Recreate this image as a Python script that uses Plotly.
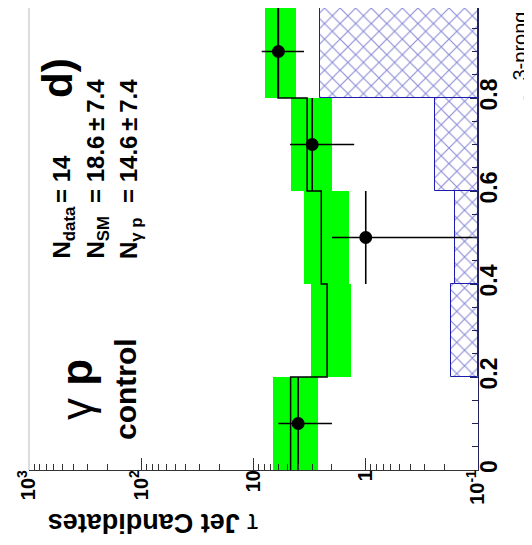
import numpy as np
import plotly.graph_objects as go

# ---------------- data ----------------
bin_edges = [0.0, 0.2, 0.4, 0.6, 0.8, 1.0]
bin_centers = [0.1, 0.3, 0.5, 0.7, 0.9]
data_counts = [4, 0, 1, 3, 6]
sm_values = [4.67, 2.21, 2.49, 3.33, 6.05]
sm_errors = [2.0, 0.85, 1.07, 1.33, 1.9]
hatched_values = [0.0, 0.173, 0.161, 0.243, 2.54]

log_tick_vals = [1000, 100, 10, 1, 0.1]
log_tick_text = ["10<sup>3</sup>", "10<sup>2</sup>", "10", "1", "10<sup>-1</sup>"]
i_tick_vals = [0, 0.2, 0.4, 0.6, 0.8]
i_tick_text = ["0", "0.2", "0.4", "0.6", "0.8"]

FONT = "Liberation Sans"
W, H = 532, 545
L, R, T, B = 21, 470, 0, 462   # plot area in pixels


def fx(px):
    return (px - L) / (R - L)


def fy(py):
    return (B - py) / (B - T)


fig = go.Figure()

# SM uncertainty band (green)
fig.add_trace(go.Bar(
    orientation="h",
    y=bin_centers,
    x=[2 * e for e in sm_errors],
    base=[v - e for v, e in zip(sm_values, sm_errors)],
    width=0.2,
    marker=dict(color="#00ff00", line=dict(width=0)),
    showlegend=False,
))

# hatched histogram
hb_y = [c for c, v in zip(bin_centers, hatched_values) if v > 0.1]
hb_v = [v for v in hatched_values if v > 0.1]
fig.add_trace(go.Bar(
    orientation="h",
    y=hb_y,
    x=[v - 0.1 for v in hb_v],
    base=[0.1] * len(hb_v),
    width=0.2,
    marker=dict(
        color="white",
        line=dict(color="#1c1cb0", width=1),
        pattern=dict(shape="x", fgcolor="#1c1cb0", bgcolor="white",
                     size=11, solidity=0.2),
    ),
    showlegend=False,
))

# SM histogram step line
fig.add_trace(go.Scatter(
    x=sm_values + [sm_values[-1]],
    y=bin_edges,
    mode="lines",
    line=dict(color="black", width=1.5, shape="vh"),
    showlegend=False,
))

# data points
dx = [c for c, n in zip(bin_centers, data_counts) if n > 0]
dn = [n for n in data_counts if n > 0]
fig.add_trace(go.Scatter(
    x=dn,
    y=dx,
    mode="markers",
    marker=dict(color="black", size=13, symbol="circle"),
    error_x=dict(type="data", array=[np.sqrt(n) for n in dn],
                 arrayminus=[np.sqrt(n) for n in dn],
                 color="black", thickness=1.6, width=0),
    error_y=dict(type="constant", value=0.1, color="black",
                 thickness=1.6, width=0),
    showlegend=False,
))

minor_vals = []
for dec in [0.1, 1, 10, 100]:
    for k in range(2, 10):
        minor_vals.append(k * dec)

fig.update_layout(
    width=W, height=H,
    margin=dict(l=L, r=W - R, t=T, b=H - B, pad=0),
    paper_bgcolor="white", plot_bgcolor="white",
    barmode="overlay",
    bargap=0,
    font=dict(family=FONT, color="black"),
    xaxis=dict(
        type="log", range=[3, -1],
        showgrid=False, zeroline=False,
        showline=True, linecolor="#333333", linewidth=1.2,
        ticks="inside", ticklen=12, tickcolor="#333333", tickwidth=1,
        tickvals=log_tick_vals, ticktext=log_tick_text,
        tickangle=-90, ticklabelstandoff=-9,
        tickfont=dict(family=FONT, size=20, weight="bold", color="black"),
        minor=dict(ticks="inside", ticklen=6, tickcolor="#333333",
                   tickvals=minor_vals, showgrid=False),
        automargin=False,
    ),
    yaxis=dict(
        side="right",
        range=[0, (B - T) / 465.0],
        showgrid=False, zeroline=False,
        showline=True, linecolor="#22225a", linewidth=1.2,
        ticks="inside", ticklen=8, tickcolor="#22225a", tickwidth=1,
        tickvals=i_tick_vals, ticktext=i_tick_text,
        tickangle=-90, ticklabelstandoff=-10,
        tickfont=dict(family=FONT, size=23, weight="bold", color="black"),
        minor=dict(ticks="inside", ticklen=6, tickcolor="#22225a",
                   dtick=0.05, tick0=0, showgrid=False),
        automargin=False,
    ),
    shapes=[dict(type="line", xref="paper", yref="paper", x0=0, x1=0,
                 y0=0, y1=1, line=dict(color="#bbbbbb", width=1))],
)

ann = []


def add(text, px, py, size, angle=-90, xa="center", ya="middle", bold=True,
        color="black"):
    ann.append(dict(
        text=text, xref="paper", yref="paper", x=fx(px), y=fy(py),
        xanchor=xa, yanchor=ya, showarrow=False, textangle=angle,
        font=dict(family=FONT, size=size, color=color,
                  weight="bold" if bold else "normal"),
    ))


add("N<sub>data</sub>", 55, 253, 24, ya="bottom")
add("= 14", 53, 197, 24, ya="bottom")
add("N<sub>SM</sub>", 89, 253, 24, ya="bottom")
add("= 18.6\u2009±\u20097.4", 87, 197, 24, ya="bottom")
add("N<sub>γ p</sub>", 122, 253, 24, ya="bottom")
add("= 14.6\u2009±\u20097.4", 120, 197, 24, ya="bottom")
add("γ <b>p</b>", 68, 382, 44, bold=False)
add("control", 117, 381, 30)
add("τ <b>Jet Candidates</b>", 145, 515, 27, angle=180, bold=False)
add("I", 526, 96, 30, ya="bottom")
add("3-prong", 511, 74, 20, ya="bottom", bold=False)
add("d)", 50, 70, 42)

fig.update_layout(annotations=ann)
fig.write_html("out.html")
